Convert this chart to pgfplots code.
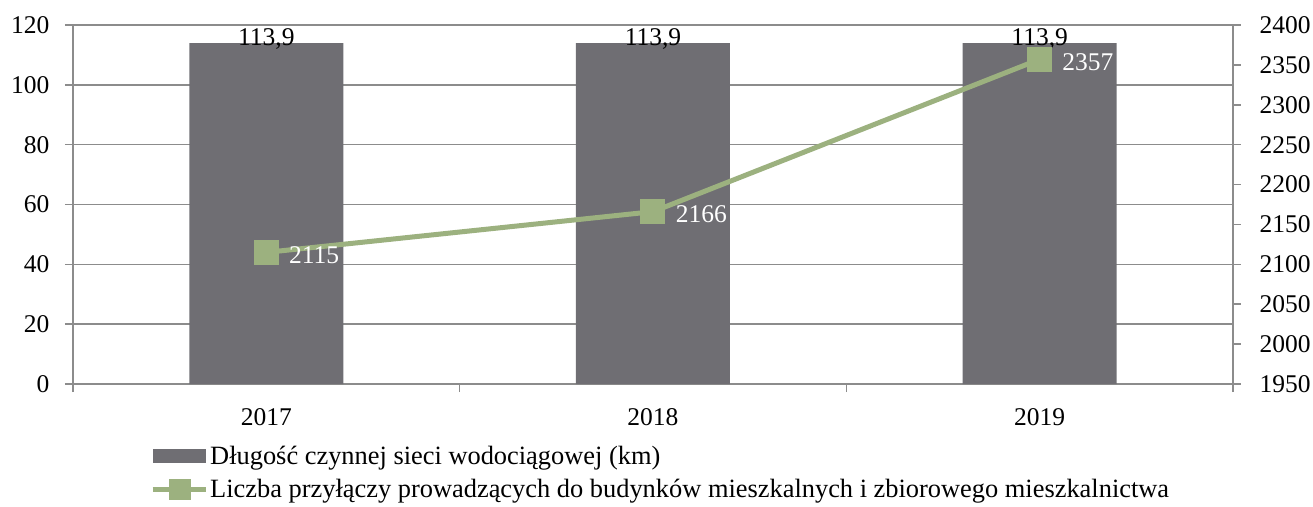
\documentclass[border=0pt]{standalone}
\usepackage{pgfplots}
\pgfplotsset{compat=1.18}
\usepackage{fontspec}
\setmainfont{Liberation Serif}
\definecolor{barcol}{HTML}{6F6E73}
\definecolor{linecol}{HTML}{9CB17F}
\definecolor{gridcol}{HTML}{8C8C8C}
\newcommand{\bigfont}{\fontsize{25.5}{30}\selectfont}
\newcommand{\legfont}{\fontsize{26.4}{31}\selectfont}
\pgfplotsset{/pgf/number format/assume math mode=true, /pgf/number format/1000 sep={}}
\begin{document}
\begin{tikzpicture}
\path[use as bounding box] (-73pt,-122pt) rectangle (1240pt,384pt);
\begin{axis}[
  at={(0pt,0pt)}, anchor=south west,
  scale only axis, width=1160pt, height=359pt,
  xmin=-0.5, xmax=2.5, ymin=0, ymax=120,
  ytick={0,20,...,120},
  xtick={0,1,2}, xticklabels={2017,2018,2019},
  minor xtick={-0.5,0.5,1.5,2.5},
  major x tick style={draw=none},
  axis y line*=left, axis x line*=bottom,
  tick align=outside,
  major tick length=8pt, minor tick length=8pt,
  ymajorgrids, grid style={gridcol, line width=1.5pt},
  axis line style={gridcol, line width=1.5pt},
  tick style={gridcol, line width=1.5pt},
  tick label style={font=\bigfont, black},
  xticklabel style={yshift=-13pt},
  yticklabel style={xshift=-12pt},
  legend style={at={(axis description cs:0.0664,-0.168)}, anchor=north west,
    draw=none, fill=none, font=\legfont, row sep=9pt, inner sep=0pt,
    cells={anchor=west}},
]
\addplot[ybar, bar width=154pt, fill=barcol, draw=none,
  nodes near coords={\pgfmathprintnumber[fixed,fixed zerofill,precision=1,use comma]{\pgfplotspointmeta}},
  every node near coord/.append style={black, font=\bigfont, yshift=-9.5pt},
  legend image code/.code={\fill[barcol] (0pt,-7pt) rectangle (53pt,7pt);}]
  coordinates {(0,113.9) (1,113.9) (2,113.9)};
\addlegendentry{Długość czynnej sieci wodociągowej (km)}
\addlegendimage{legend image code/.code={\draw[linecol, line width=5pt] (0pt,0pt)--(53pt,0pt); \fill[linecol] (16pt,-10pt) rectangle (37pt,10pt);}}
\addlegendentry{Liczba przyłączy prowadzących do budynków mieszkalnych i zbiorowego mieszkalnictwa}
\end{axis}
\begin{axis}[
  at={(0pt,0pt)}, anchor=south west,
  scale only axis, width=1160pt, height=359pt,
  xmin=-0.5, xmax=2.5, ymin=1950, ymax=2400,
  ytick={1950,2000,...,2400},
  axis y line*=right, axis x line=none,
  tick align=outside, major tick length=8pt,
  axis line style={gridcol, line width=1.5pt},
  tick style={gridcol, line width=1.5pt},
  tick label style={font=\bigfont, black},
  yticklabel style={xshift=15pt},
]
\addplot[linecol, line width=5pt, mark=square*, mark size=10pt,
  mark options={draw=none, fill=linecol},
  nodes near coords,
  every node near coord/.append style={white, font=\bigfont, anchor=west, xshift=17pt, yshift=-3pt}]
  coordinates {(0,2115) (1,2166) (2,2357)};
\end{axis}
\end{tikzpicture}
\end{document}
